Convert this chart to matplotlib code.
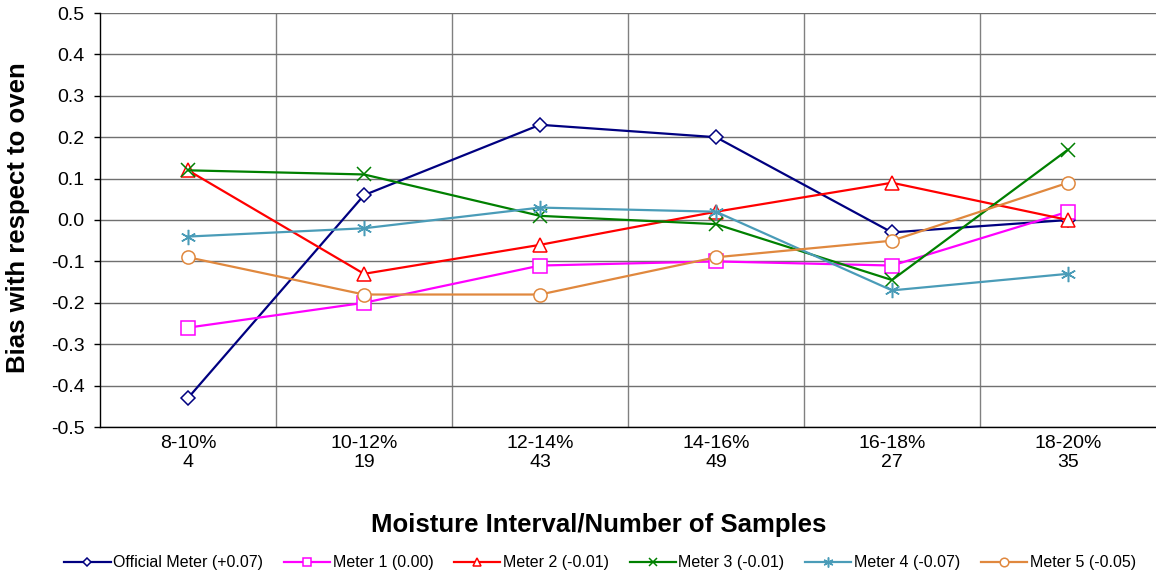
import matplotlib
matplotlib.use("Agg")
import matplotlib.pyplot as plt
from matplotlib.ticker import FixedLocator, MultipleLocator

plt.rcParams["font.family"] = ["Liberation Sans", "DejaVu Sans"]

intervals = ["8-10%", "10-12%", "12-14%", "14-16%", "16-18%", "18-20%"]
n_samples = [4, 19, 43, 49, 27, 35]

official = [-0.43, 0.06, 0.23, 0.20, -0.03, 0.00]
meter1 = [-0.26, -0.20, -0.11, -0.10, -0.11, 0.02]
meter2 = [0.12, -0.13, -0.06, 0.02, 0.09, 0.00]
meter3 = [0.12, 0.11, 0.01, -0.01, -0.145, 0.17]
meter4 = [-0.04, -0.02, 0.03, 0.02, -0.17, -0.13]
meter5 = [-0.09, -0.18, -0.18, -0.09, -0.05, 0.09]

series_names = ["Official Meter (+0.07)", "Meter 1 (0.00)", "Meter 2 (-0.01)",
                "Meter 3 (-0.01)", "Meter 4 (-0.07)", "Meter 5 (-0.05)"]
series_values = [official, meter1, meter2, meter3, meter4, meter5]

# 系列ごとの見た目
colors = ["#000080", "#FF00FF", "#FF0000", "#008000", "#4A9CB8", "#E0883E"]
markers = ["D", "s", "^", "x", (6, 2, 0), "o"]
msizes = [7, 9.5, 9.5, 9.5, 11, 9.5]

fig = plt.figure(figsize=(11.56, 5.78), dpi=100)
ax = fig.add_axes([100 / 1156, 1 - 427 / 578, 1 - 100 / 1156, (427 - 13) / 578])

x = list(range(len(intervals)))
for name, vals, c, m, ms in zip(series_names, series_values, colors, markers, msizes):
    filled = m in ("x", (6, 2, 0))
    ax.plot(x, vals, color=c, lw=1.6, marker=m, ms=ms, mfc=c if filled else "white",
            mec=c, mew=1.1, label=name, zorder=3)

ax.set_xlim(-0.5, 5.5)
ax.set_ylim(-0.5, 0.5)

ax.yaxis.set_major_locator(MultipleLocator(0.1))
ax.set_yticklabels([f"{v:.1f}" for v in ax.get_yticks()])
ax.set_xticks(x)
ax.set_xticklabels([f"{a}\n{n}" for a, n in zip(intervals, n_samples)], linespacing=1.15)
ax.xaxis.set_minor_locator(FixedLocator([i + 0.5 for i in range(5)]))

ax.grid(axis="y", which="major", color="#707070", lw=1)
ax.grid(axis="x", which="minor", color="#808080", lw=1)
ax.set_axisbelow(True)

ax.tick_params(axis="y", labelsize=14, length=4, width=1, pad=7)
ax.tick_params(axis="x", which="major", labelsize=14, length=0, pad=6)
ax.tick_params(axis="x", which="minor", length=0)

for s in ("top", "right"):
    ax.spines[s].set_visible(False)
for s in ("left", "bottom"):
    ax.spines[s].set_color("black")
    ax.spines[s].set_linewidth(1)

ax.set_ylabel("Bias with respect to oven", fontsize=18.5, fontweight="bold")
ax.yaxis.set_label_coords(-0.066, 0.505)
ax.set_xlabel("Moisture Interval/Number of Samples", fontsize=18.5, fontweight="bold", labelpad=30)
ax.xaxis.label.set_x(0.4725)

leg = ax.legend(loc="center", bbox_to_anchor=(0.4735, -0.3285), ncol=6, frameon=False,
                fontsize=11.5, handlelength=2.9, handletextpad=0.15, columnspacing=1.3,
                borderaxespad=0, markerscale=0.65)

fig.savefig("out.png", dpi=100)
